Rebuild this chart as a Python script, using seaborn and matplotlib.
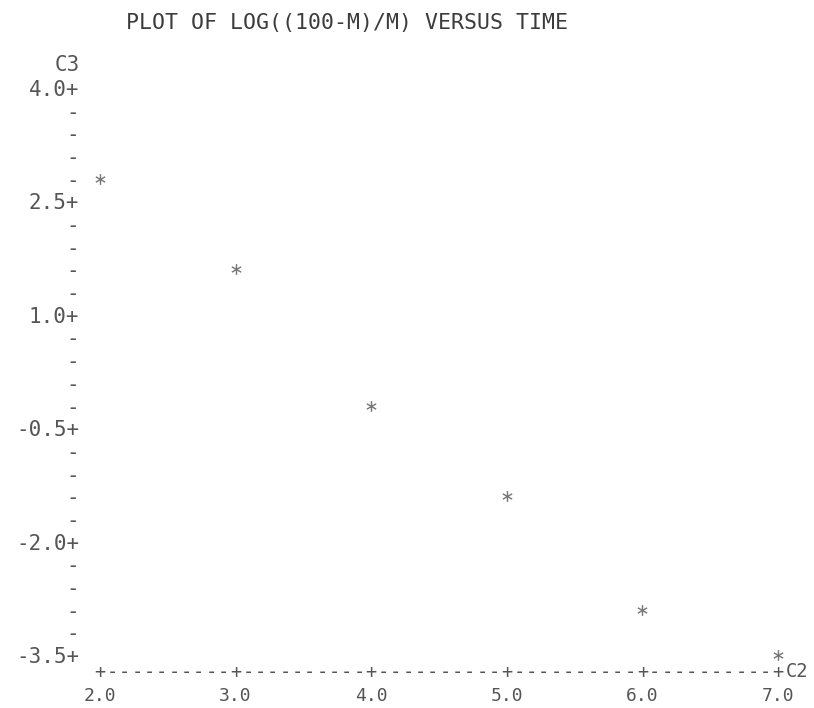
import numpy as np
import matplotlib
matplotlib.use("Agg")
import matplotlib.pyplot as plt
import seaborn as sns

# Data: time (C2) and log((100-M)/M) (C3)
time = [2.0, 3.0, 4.0, 5.0, 6.0, 7.0]
logit = [2.8, 1.6, -0.2, -1.4, -2.9, -3.5]

# Axis labelling in line-printer style
x_major = [2.0, 3.0, 4.0, 5.0, 6.0, 7.0]
x_major_labels = ["2.0", "3.0", "4.0", "5.0", "6.0", "7.0"]
y_major = [4.0, 2.5, 1.0, -0.5, -2.0, -3.5]
y_major_labels = ["4.0", "2.5", "1.0", "-0.5", "-2.0", "-3.5"]
title = "PLOT OF LOG((100-M)/M) VERSUS TIME"

sns.set_theme(style="white")
plt.rcParams["font.family"] = ["DejaVu Sans Mono"]
ink = "#555555"
fs = 15
fs_x = 13.5

fig = plt.figure(figsize=(8.14, 7.08), dpi=100)
# axes box: left 80px, right 800px, top 70px, bottom 662px
ax = fig.add_axes([80 / 814, 46 / 708, 720 / 814, 592 / 708])

sns.scatterplot(x=time, y=logit, marker=r"$\ast$", s=60, color="#777777",
                linewidth=0, ax=ax)

ax.set_xlim(1.8525, 7.1622)
ax.set_ylim(-3.5926, 4.2381)
for sp in ax.spines.values():
    sp.set_visible(False)

# y axis: "+" at labelled rows, "-" at every 0.3 in between
y_rows = np.round(np.arange(4.0, -3.51, -0.3), 2)
y_minor = [v for v in y_rows if not any(abs(v - m) < 1e-6 for m in y_major)]
ax.set_yticks(y_major)
ax.set_yticklabels([lab + "+" for lab in y_major_labels])
ax.set_yticks(y_minor, minor=True)
ax.set_yticklabels(["-"] * len(y_minor), minor=True)
ax.tick_params(axis="y", which="both", length=0, pad=0.5, labelsize=fs,
               labelcolor=ink, left=False)

# x axis: "+" at each whole unit, dashes between
x_cols = np.arange(2.0, 7.0 + 1e-9, 1 / 11)
x_minor = [v for v in x_cols if not any(abs(v - m) < 1e-6 for m in x_major)]
ax.set_xticks(x_major)
ax.set_xticklabels(["+"] * len(x_major))
ax.set_xticks(x_minor, minor=True)
ax.set_xticklabels(["-"] * len(x_minor), minor=True)
ax.tick_params(axis="x", which="both", length=0, pad=0.8, labelsize=fs_x,
               labelcolor=ink, bottom=False)

# numeric scale under the axis line
xt = ax.get_xaxis_transform()
for x, lab in zip(x_major, x_major_labels):
    ax.text(x, -0.0574, lab, transform=xt, ha="center", va="center",
            fontsize=13, color=ink)

# variable names at the ends of the axes
ax.text(7.0560, -0.0160, "C2", transform=xt, ha="left", va="center",
        fontsize=fs_x, color=ink)
yt = ax.get_yaxis_transform()
ax.text(0.0, 4.31, "C3", transform=yt, ha="right", va="center",
        fontsize=fs, color=ink)

fig.text(126 / 814, 1 - 23 / 708, title, ha="left", va="center",
         fontsize=15.5, color="#3c3c3c")

fig.savefig("out.png", dpi=100, facecolor="white")
